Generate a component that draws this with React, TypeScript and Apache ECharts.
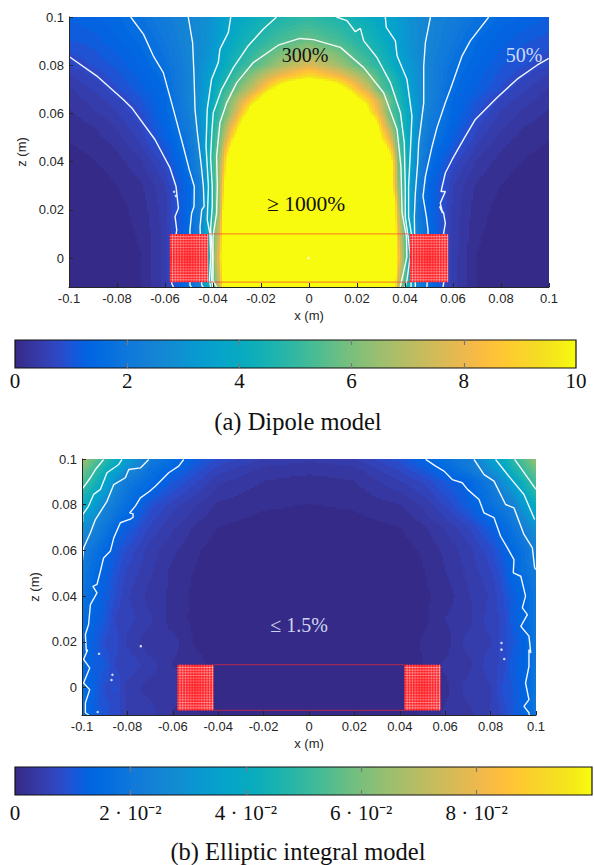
import React, { useEffect, useRef } from "react";
import * as echarts from "echarts";

// ---------- colour scale (parula, 64 steps) ----------
const parula: number[][] = [
  [.2081,.1663,.5292],[.2116,.1898,.5777],[.2123,.2138,.627],[.2081,.2386,.6771],[.1959,.2645,.7279],[.1707,.2919,.7792],[.1253,.3242,.8303],[.0591,.3598,.8683],
  [.0117,.3875,.882],[.006,.4086,.8828],[.0165,.4266,.8786],[.0329,.443,.872],[.0498,.4586,.8641],[.0629,.4737,.8554],[.0723,.4887,.8467],[.0779,.504,.8384],
  [.0793,.52,.8312],[.0749,.5375,.8263],[.0641,.557,.824],[.0488,.5772,.8228],[.0343,.5966,.8199],[.0265,.6137,.8135],[.0239,.6287,.8038],[.0231,.6418,.7913],
  [.0228,.6535,.7768],[.0267,.6642,.7607],[.0384,.6743,.7436],[.059,.6838,.7254],[.0843,.6928,.7062],[.1133,.7015,.6859],[.1453,.7098,.6646],[.1801,.7177,.6424],
  [.2178,.725,.6193],[.2586,.7317,.5954],[.3022,.7376,.5712],[.3482,.7424,.5473],[.3953,.7459,.5244],[.442,.7481,.5033],[.4871,.7491,.484],[.53,.7491,.4661],
  [.5709,.7485,.4494],[.6099,.7473,.4337],[.6473,.7456,.4188],[.6834,.7435,.4044],[.7184,.7411,.3905],[.7525,.7384,.3768],[.7858,.7356,.3633],[.8185,.7327,.3498],
  [.8507,.7299,.336],[.8824,.7274,.3217],[.9139,.7258,.3063],[.945,.7261,.2886],[.9739,.7314,.2666],[.9938,.7455,.2403],[.999,.7653,.2164],[.9955,.7861,.1967],
  [.988,.8066,.1794],[.9789,.8271,.1633],[.9697,.8481,.1475],[.9626,.8705,.1309],[.9589,.8949,.1132],[.9598,.9218,.0948],[.9661,.9514,.0755],[.9763,.9831,.0538],
];
const parulaCss = parula.map((c) => `rgb(${Math.round(c[0] * 255)},${Math.round(c[1] * 255)},${Math.round(c[2] * 255)})`);

// ---------- axes ----------
const xTicks = [-0.1, -0.08, -0.06, -0.04, -0.02, 0, 0.02, 0.04, 0.06, 0.08, 0.1];
const zTicks = [0, 0.02, 0.04, 0.06, 0.08, 0.1];
const zMin = -0.012;
const dipoleBarTicks = [0, 2, 4, 6, 8, 10];
const dipoleBarInner = [2, 4, 6, 8];
const ellipticBarTicks = [0, 0.02, 0.04, 0.06, 0.08];
const ellipticBarInner = [0.02, 0.04, 0.06, 0.08];
const ellipticBarLabels: Record<string, string> = { "0": "0", "0.02": "2 · 10⁻²", "0.04": "4 · 10⁻²", "0.06": "6 · 10⁻²", "0.08": "8 · 10⁻²" };

// ---------- dipole model: error (colour-bar units) ----------
const dipoleX = [-0.1,-0.09,-0.08,-0.07,-0.06,-0.05,-0.045,-0.041,-0.037,-0.034,-0.03,-0.025,-0.02,-0.012,0,0.012,0.02,0.025,0.03,0.034,0.037,0.041,0.045,0.05,0.06,0.07,0.08,0.09,0.1];
const dipoleZ = [-0.012,0,0.01,0.02,0.03,0.04,0.05,0.055,0.06,0.065,0.07,0.075,0.08,0.09,0.1];
const dipoleRows = [
  [.04,.05,.06,.15,.52,1.65,2.5,4.7,7.4,14,25,30,30,30,30,30,30,30,25,14,7.2,4.7,2.5,1.65,.52,.15,.06,.05,.04],
  [.04,.05,.07,.15,.55,1.65,2.45,5,8.6,16,28,30,30,30,30,30,30,30,28,16,8.8,5,2.45,1.65,.55,.15,.07,.05,.04],
  [.04,.05,.08,.18,.52,1.55,2.5,4.9,7.8,14,25,30,30,30,30,30,30,30,25,14,8.2,5,2.5,1.55,.55,.18,.08,.05,.04],
  [.04,.05,.1,.22,.55,1.47,2.55,4.2,6.8,14,24,30,30,30,30,30,30,30,25,14,7.4,4,2.35,1.47,.58,.22,.1,.05,.04],
  [.05,.06,.15,.28,.6,1.45,2.45,4.2,6.8,11.5,20,28,30,30,30,30,30,28,18,10.5,6.4,4.1,2.6,1.42,.62,.28,.15,.06,.05],
  [.08,.14,.24,.44,.85,1.82,2.7,4.7,6.5,10,16,25,30,30,30,30,30,25,14,10.5,6,4.3,2.7,1.7,.85,.44,.24,.14,.08],
  [.17,.24,.4,.68,1.24,2.02,2.95,4.5,5.9,7.6,10.6,18,25,30,30,30,25,18,9.8,7.5,5.3,4.2,2.95,2,1.24,.68,.4,.24,.17],
  [.22,.32,.5,.8,1.36,2.2,3,4.3,5.5,6.8,8.9,13,20,28,30,28,20,13,8.7,6.4,5.1,4.1,3,2.2,1.36,.82,.5,.32,.22],
  [.28,.42,.62,.92,1.45,2.35,3.1,4.1,5.2,6,7.6,10.3,16,25,30,25,16,10,7.6,5.5,5,4.05,3.05,2.35,1.47,.96,.6,.42,.28],
  [.36,.52,.72,1.05,1.5,2.45,3.1,3.9,4.9,5.7,6.9,8.5,10.5,16,25,16,10.5,8.9,7,5.6,4.75,3.95,3.1,2.45,1.52,1.08,.72,.52,.36],
  [.44,.64,.92,1.2,1.55,2.5,3,3.75,4.55,5.1,5.9,6.9,8.1,10.8,14,11,8.4,7.3,5.5,4.9,4.5,3.75,3,2.5,1.6,1.24,.92,.64,.44],
  [.58,.78,1.02,1.32,1.65,2.5,3,3.6,4.15,4.6,5.25,6.1,7,8.2,9.5,8.3,7.1,6.2,5.2,4.75,4.2,3.5,2.95,2.5,1.66,1.32,1.02,.78,.58],
  [.78,.95,1.14,1.42,1.78,2.5,2.85,3.3,3.85,4.15,4.7,5.2,5.7,6.6,7.6,6.6,5.7,5.2,4.7,4.2,3.75,3.3,2.85,2.5,1.78,1.42,1.12,.95,.78],
  [1.08,1.16,1.38,1.6,2.05,2.6,2.8,3.1,3.5,3.8,4.15,4.5,4.8,5.3,5.8,5.3,4.8,4.55,4.15,3.8,3.5,3.1,2.8,2.6,2.05,1.55,1.32,1.12,1.02],
  [1.28,1.38,1.5,1.85,2.25,2.6,2.8,3,3.4,3.6,3.8,4.05,4.3,4.6,4.9,4.6,4.3,4.05,3.8,3.6,3.4,3,2.8,2.6,2.25,1.85,1.5,1.38,1.2],
];

// ---------- elliptic integral model: error ----------
const ellipticX = [-0.1,-0.095,-0.09,-0.085,-0.08,-0.07,-0.06,-0.05,-0.04,-0.02,0,0.02,0.04,0.05,0.06,0.07,0.08,0.085,0.09,0.095,0.1];
const ellipticZ = [-0.012,0,0.01,0.02,0.03,0.04,0.05,0.06,0.07,0.08,0.09,0.095,0.1];
const ellipticRows = [
  [.017,.0125,.01,.0085,.006,.0055,.0028,.0018,.0003,.0002,.0002,.0002,.0003,.0018,.0035,.004,.0065,.008,.011,.014,.02],
  [.017,.013,.009,.0095,.0055,.004,.0045,.0015,.0004,.0002,.0002,.0002,.0004,.0025,.0025,.0055,.006,.0095,.011,.014,.02],
  [.016,.0125,.011,.0075,.0075,.0055,.003,.0025,.0004,.0002,.0002,.0002,.0004,.0015,.0035,.004,.0075,.008,.012,.014,.02],
  [.016,.0125,.009,.0085,.006,.0035,.0038,.0012,.0005,.0002,.0002,.0002,.0005,.0018,.0022,.0055,.006,.0085,.0105,.014,.02],
  [.017,.0135,.011,.0075,.007,.005,.0022,.0012,.0005,.0003,.0003,.0003,.0005,.001,.0032,.004,.0072,.008,.012,.015,.02],
  [.019,.0155,.012,.009,.0065,.004,.0028,.001,.0005,.0003,.0003,.0003,.0005,.0012,.0022,.0045,.0065,.009,.012,.015,.02],
  [.021,.016,.013,.01,.0075,.005,.0025,.0014,.0006,.0004,.0004,.0004,.0006,.0014,.003,.005,.0075,.01,.0147,.018,.022],
  [.024,.019,.015,.0115,.009,.0055,.0035,.0018,.0008,.0005,.0005,.0005,.0008,.0018,.0035,.0055,.009,.012,.015,.019,.024],
  [.03,.025,.02,.015,.012,.0075,.0048,.0028,.0015,.0008,.0007,.0008,.0015,.0028,.0048,.0075,.012,.015,.019,.024,.03],
  [.041,.035,.026,.021,.017,.01,.007,.0048,.0028,.0018,.0015,.0018,.003,.005,.008,.012,.018,.021,.024,.034,.042],
  [.054,.047,.037,.028,.021,.016,.011,.008,.005,.003,.0025,.003,.006,.008,.011,.014,.021,.028,.035,.045,.053],
  [.059,.052,.043,.036,.028,.018,.014,.01,.007,.004,.0035,.004,.008,.011,.015,.02,.029,.035,.044,.052,.058],
  [.066,.058,.049,.042,.034,.022,.017,.012,.009,.006,.005,.006,.01,.014,.018,.022,.034,.04,.049,.056,.064],
];

// ---------- white contours of (a): [x, z] ----------
const dipoleContour1L = [[-0.1,.0836],[-.0885,.0756],[-.0774,.0658],[-.0739,.0624],[-.0642,.0492],[-.0579,.0374],[-.0554,.0297],[-.0544,.0207],[-.0558,.0172],[-.0551,.0117],[-.0565,.002],[-.0572,-.0105],[-.0565,-.012]];
const dipoleContour2L = [[-.0743,.1],[-.069,.0929],[-.0649,.0839],[-.0607,.0769],[-.0565,.0617],[-.0524,.0464],[-.0499,.0367],[-.0478,.0297],[-.0479,.0214],[-.0489,.0186],[-.0496,.0117],[-.0496,-.0113],[-.049,-.012]];
const dipoleContour3L = [[-.0503,.1],[-.0485,.0894],[-.0479,.0756],[-.0475,.0617],[-.0465,.0519],[-.045,.0394],[-.044,.0297],[-.0437,.0214],[-.0447,.02],[-.0454,.013],[-.0447,-.0113],[-.044,-.012]];
const dipoleContour4L = [[-.0326,.1],[-.0336,.0936],[-.0371,.0867],[-.0378,.0811],[-.0406,.0742],[-.0424,.0617],[-.0429,.0464],[-.0419,.0297],[-.0424,.0158],[-.0413,.0103],[-.0409,.0006],[-.0415,-.0092],[-.041,-.012]];
const dipoleContour5L = [[-.0135,.1],[-.019,.095],[-.0253,.0881],[-.0315,.079],[-.0364,.07],[-.0399,.0603],[-.0405,.0519],[-.041,.0417],[-.0403,.0297],[-.0403,.0214],[-.041,.012],[-.0402,.0006],[-.0406,-.009],[-.04,-.012]];
const dipoleContour6 = [[-.0385,-.012],[-.04,-.0092],[-.04,.0006],[-.04,.0089],[-.0385,.0186],[-.0382,.0297],[-.0385,.0422],[-.0371,.0561],[-.0343,.0644],[-.0301,.0728],[-.0232,.0811],[-.0128,.0883],[-.0038,.0911],[.0019,.0906],[.0131,.0874],[.0228,.079],[.0311,.0686],[.0367,.0533],[.0383,.0381],[.0388,.0186],[.0406,.0089],[.0408,.0006],[.0388,-.0085],[.038,-.012]];
const dipoleContour5R = [[.0114,.1],[.0158,.0985],[.0193,.0939],[.0214,.0953],[.0228,.0901],[.0283,.0832],[.0339,.0728],[.0381,.0603],[.0397,.0478],[.0401,.0297],[.0401,.0172],[.0415,.0075],[.0422,.0006],[.0408,-.0092],[.04,-.012]];
const dipoleContour4R = [[.0318,.1],[.0322,.0957],[.036,.0901],[.0367,.0839],[.0408,.0742],[.0429,.0589],[.0422,.0436],[.0415,.0297],[.0415,.0172],[.043,.008],[.0425,-.012]];
const dipoleContour3R = [[.0506,.1],[.0485,.0894],[.0478,.0797],[.0478,.0644],[.0457,.0478],[.0453,.0394],[.0443,.0269],[.0439,.0172],[.0443,-.0113],[.0443,-.012]];
const dipoleContour2R = [[.0749,.1],[.0672,.0901],[.0638,.0839],[.0589,.07],[.0568,.0644],[.0533,.054],[.0513,.0464],[.0485,.0339],[.0475,.0256],[.0489,.0172],[.0496,.0117],[.0492,-.0113],[.049,-.012]];
const dipoleContour1R = [[.0999,.0828],[.095,.08],[.0867,.0742],[.0783,.0665],[.0693,.0575],[.0644,.0492],[.0596,.0408],[.0568,.0353],[.055,.0276],[.0568,.0276],[.0547,.0228],[.0557,.0186],[.0544,.0214],[.0561,.0186],[.0568,.0144],[.0561,.0103],[.0561,-.0106],[.0558,-.012]];
const dipoleContours = [dipoleContour1L, dipoleContour2L, dipoleContour3L, dipoleContour4L, dipoleContour5L, dipoleContour6, dipoleContour5R, dipoleContour4R, dipoleContour3R, dipoleContour2R, dipoleContour1R];
const dipoleSpecks = [[-.0562,.0275],[-.0555,.0258],[-.0002,0]];

// ---------- white contours of (b) ----------
const ellipticContour1L = [[-.0552,.0998],[-.0574,.0969],[-.0618,.094],[-.0655,.0903],[-.0677,.0881],[-.0702,.0859],[-.0743,.083],[-.0765,.0794],[-.079,.0764],[-.0775,.076],[-.0775,.0745],[-.079,.0735],[-.0794,.0735],[-.0831,.0721],[-.086,.0655],[-.0875,.0597],[-.0905,.0567],[-.0919,.0509],[-.0934,.0451],[-.0952,.0443],[-.0934,.0414],[-.0963,.0363],[-.0971,.0276],[-.0985,.0232],[-.0981,.0159],[-.0975,.0166],[-.0993,.0123],[-.0966,.0086],[-.0993,.002],[-.0966,-.0009],[-.0985,-.0067],[-.0985,-.011],[-.097,-.012]];
const ellipticContour2L = [[-.0706,.0998],[-.0743,.0961],[-.0794,.0954],[-.0809,.0918],[-.086,.0888],[-.089,.0815],[-.0941,.0735],[-.0963,.0677],[-.0993,.0611],[-.1,.0538]];
const ellipticContour3L = [[-.0824,.0998],[-.0838,.0976],[-.089,.094],[-.0919,.0867],[-.0949,.0845],[-.0971,.0794],[-.0997,.0757],[-.0997,.0725]];
const ellipticContour4L = [[-.0905,.0998],[-.0941,.0954],[-.0963,.0918],[-.1,.0867]];
const ellipticContour1R = [[.0514,.0998],[.0558,.0969],[.0595,.0947],[.0631,.091],[.0675,.0896],[.0698,.0867],[.0749,.0823],[.0771,.0764],[.0815,.0743],[.0844,.0662],[.0874,.0611],[.0903,.056],[.09,.0502],[.0933,.0487],[.0954,.04],[.094,.0349],[.0962,.0319],[.0933,.0268],[.0969,.0225],[.0977,.0152],[.0969,.0166],[.0969,.0093],[.0954,.002],[.0969,-.0053],[.0947,-.0082],[.0969,-.011],[.097,-.012]];
const ellipticContour2R = [[.0727,.0998],[.0771,.0932],[.0815,.0903],[.0866,.0801],[.0903,.0786],[.0947,.067],[.0984,.0611],[.0994,.0524],[.1,.0516]];
const ellipticContour3R = [[.0822,.0998],[.0874,.0932],[.0947,.0845],[.0994,.0735]];
const ellipticContour4R = [[.0906,.0998],[.1,.0867]];
const ellipticContours = [ellipticContour1L, ellipticContour2L, ellipticContour3L, ellipticContour4L, ellipticContour1R, ellipticContour2R, ellipticContour3R, ellipticContour4R];
const ellipticSpecks = [[-.0925,.0148],[-.0866,.0056],[-.087,.0033],[-.0931,-.0107],[-.0741,.0181],[.0848,.0166],[.086,.0125],[.0848,.0195]];

// ---------- coil cross-sections and the lines joining them: [x0, x1, z0, z1] ----------
const coils = [[-0.058, -0.042, -0.01, 0.01], [0.042, 0.058, -0.01, 0.01]];
const railTop = [[-0.042, 0.01], [0.042, 0.01]];
const railBottom = [[-0.042, -0.01], [0.042, -0.01]];

const INK = "#262626";
const SANS = '"Liberation Sans", Arial, sans-serif';
const SERIF = '"Liberation Serif", "Times New Roman", serif';

function fieldCells(xs: number[], zs: number[], rows: number[][]) {
  const out: number[][] = [];
  for (let j = 0; j < zs.length - 1; j++) {
    for (let i = 0; i < xs.length - 1; i++) {
      out.push([xs[i], zs[j], xs[i + 1], zs[j + 1], rows[j][i], rows[j][i + 1], rows[j + 1][i], rows[j + 1][i + 1]]);
    }
  }
  return out;
}

function fieldSeries(name: string, axis: [number, number], xs: number[], zs: number[], rows: number[][], vmax: number) {
  return {
    type: "custom", name, silent: true, xAxisIndex: axis[0], yAxisIndex: axis[1], z: 1,
    encode: { x: [0, 2], y: [1, 3] },
    data: fieldCells(xs, zs, rows),
    renderItem: (_: any, api: any) => {
      const a = api.coord([api.value(0), api.value(1)]);
      const b = api.coord([api.value(2), api.value(3)]);
      const L = Math.round(a[0]), R = Math.round(b[0]), T = Math.round(b[1]), B = Math.round(a[1]);
      const v00 = api.value(4), v10 = api.value(5), v01 = api.value(6), v11 = api.value(7);
      const children: any[] = [];
      const idx = (fx: number, fy: number) => {
        const v = (v00 * (1 - fx) + v10 * fx) * (1 - fy) + (v01 * (1 - fx) + v11 * fx) * fy;
        return Math.max(0, Math.min(63, Math.floor((v / vmax) * 64)));
      };
      for (let y = T; y < B; y += 2) {
        const y2 = Math.min(y + 2, B);
        const fy = (B - (y + y2) / 2) / Math.max(1, B - T);
        let start = L;
        let cur = idx(0, fy);
        for (let x = L; x < R; x += 2) {
          const x2 = Math.min(x + 2, R);
          const k = idx(((x + x2) / 2 - L) / Math.max(1, R - L), fy);
          if (k !== cur) {
            children.push({ type: "rect", shape: { x: start, y, width: x - start, height: y2 - y }, style: { fill: parulaCss[cur] } });
            start = x;
            cur = k;
          }
        }
        children.push({ type: "rect", shape: { x: start, y, width: R - start, height: y2 - y }, style: { fill: parulaCss[cur] } });
      }
      return { type: "group", children };
    },
  };
}

function contourSeries(list: number[][][], axis: [number, number]) {
  return list.map((data) => ({
    type: "line", silent: true, xAxisIndex: axis[0], yAxisIndex: axis[1], z: 3, data,
    showSymbol: false, symbol: "none", lineStyle: { color: "#fff", width: 1.4, opacity: 0.95 },
  }));
}

function speckSeries(data: number[][], axis: [number, number]) {
  return { type: "scatter", silent: true, xAxisIndex: axis[0], yAxisIndex: axis[1], z: 3, data, symbolSize: 2.5, itemStyle: { color: "#fff" } };
}

function railSeries(axis: [number, number]) {
  return [railTop, railBottom].map((data) => ({
    type: "line", silent: true, xAxisIndex: axis[0], yAxisIndex: axis[1], z: 4, data,
    showSymbol: false, symbol: "none", lineStyle: { color: "rgba(255,40,40,0.5)", width: 1.2 },
  }));
}

function coilSeries(axis: [number, number]) {
  return {
    type: "custom", silent: true, xAxisIndex: axis[0], yAxisIndex: axis[1], z: 5,
    encode: { x: [0, 1], y: [2, 3] },
    data: coils,
    renderItem: (_: any, api: any) => {
      const a = api.coord([api.value(0), api.value(2)]);
      const b = api.coord([api.value(1), api.value(3)]);
      const children: any[] = [{ type: "rect", shape: { x: a[0], y: b[1], width: b[0] - a[0], height: a[1] - b[1] }, style: { fill: "#ff1f24" } }];
      const w = b[0] - a[0];
      const h = a[1] - b[1];
      for (let i = 1; i * 2.7 < w; i++) {
        const c = Math.abs(i * 2.7 / w - 0.5);
        children.push({ type: "line", shape: { x1: a[0] + i * 2.7, y1: b[1], x2: a[0] + i * 2.7, y2: a[1] }, style: { stroke: `rgba(255,235,235,${0.18 + c})`, lineWidth: 0.8 } });
      }
      for (let j = 1; j * 2.7 < h; j++) {
        const c = Math.abs(j * 2.7 / h - 0.5);
        children.push({ type: "line", shape: { x1: a[0], y1: b[1] + j * 2.7, x2: b[0], y2: b[1] + j * 2.7 }, style: { stroke: `rgba(255,235,235,${0.18 + c})`, lineWidth: 0.8 } });
      }
      return { type: "group", children };
    },
  };
}

function barSeries(axis: [number, number], vmax: number) {
  return {
    type: "custom", silent: true, xAxisIndex: axis[0], yAxisIndex: axis[1], z: 1,
    encode: { x: [0, 1] },
    data: [[0, vmax]],
    renderItem: (p: any, api: any) => {
      const a = api.coord([api.value(0), 0]);
      const b = api.coord([api.value(1), 1]);
      return {
        type: "rect",
        shape: { x: a[0], y: b[1], width: b[0] - a[0], height: a[1] - b[1] },
        style: {
          fill: new echarts.graphic.LinearGradient(0, 0, 1, 0, parulaCss.map((color, i) => ({ offset: i / 63, color }))),
          stroke: "#111", lineWidth: 1.2,
        },
      };
    },
  };
}

function plotX(gridIndex: number) {
  return {
    gridIndex, type: "value", min: -0.1, max: 0.1, z: 6,
    name: "x (m)", nameLocation: "middle", nameGap: 22, nameTextStyle: { color: INK, fontFamily: SANS, fontSize: 13 },
    axisLine: { show: true, onZero: false, lineStyle: { color: INK, width: 1 } },
    axisTick: { show: true, inside: true, length: 4, customValues: xTicks, lineStyle: { color: INK } },
    axisLabel: { color: INK, fontFamily: SANS, fontSize: 13, margin: 5, customValues: xTicks, formatter: (v: number) => String(v) },
    splitLine: { show: false },
  };
}
function plotZ(gridIndex: number, nameGap: number) {
  return {
    gridIndex, type: "value", min: zMin, max: 0.1, z: 6,
    name: "z (m)", nameLocation: "middle", nameGap, nameRotate: 90, nameTextStyle: { color: INK, fontFamily: SANS, fontSize: 13 },
    axisLine: { show: true, onZero: false, lineStyle: { color: INK, width: 1 } },
    axisTick: { show: true, inside: true, length: 4, customValues: zTicks, lineStyle: { color: INK } },
    axisLabel: { color: INK, fontFamily: SANS, fontSize: 13, margin: 5, customValues: zTicks, formatter: (v: number) => String(v) },
    splitLine: { show: false },
  };
}
function barX(gridIndex: number, vmax: number, ticks: number[], inner: number[], position: string, fmt: (v: number) => string, margin: number) {
  const bottom = position === "bottom";
  return {
    gridIndex, type: "value", min: 0, max: vmax, position, z: 6,
    axisLine: { show: false, onZero: false },
    axisTick: { show: true, inside: true, length: 5, customValues: inner, lineStyle: { color: "#777", width: 1.2 } },
    axisLabel: { show: bottom, color: "#111", fontFamily: SERIF, fontSize: 21, margin, customValues: ticks, formatter: fmt, hideOverlap: false },
    splitLine: { show: false },
  };
}
function barY(gridIndex: number) {
  return { gridIndex, type: "value", min: 0, max: 1, show: false };
}

function txt(text: string, x: number, y: number, size: number, fill: string) {
  return { type: "text", silent: true, z: 20, style: { text, x, y, align: "center", verticalAlign: "middle", font: `${size}px ${SERIF}`, fill } };
}

export default function App() {
  const ref = useRef<HTMLDivElement>(null);
  useEffect(() => {
    const chart = echarts.init(ref.current!, undefined, { renderer: "svg" });
    chart.setOption({
      animation: false,
      backgroundColor: "#fff",
      grid: [
        { left: 69, top: 17, width: 480, height: 270 },
        { left: 15, top: 340, width: 561, height: 28 },
        { left: 82, top: 459, width: 454, height: 256 },
        { left: 15, top: 767, width: 577, height: 28 },
      ],
      xAxis: [
        plotX(0),
        barX(1, 10, dipoleBarTicks, dipoleBarInner, "bottom", (v) => String(v), 2),
        barX(1, 10, dipoleBarTicks, dipoleBarInner, "top", (v) => String(v), 2),
        plotX(2),
        barX(3, 0.1, ellipticBarTicks, ellipticBarInner, "bottom", (v) => ellipticBarLabels[String(v)] ?? "", 7),
        barX(3, 0.1, ellipticBarTicks, ellipticBarInner, "top", (v) => ellipticBarLabels[String(v)] ?? "", 7),
      ],
      yAxis: [plotZ(0, 30), barY(1), plotZ(2, 25), barY(3)],
      series: [
        fieldSeries("Dipole model", [0, 0], dipoleX, dipoleZ, dipoleRows, 10),
        ...contourSeries(dipoleContours, [0, 0]),
        speckSeries(dipoleSpecks, [0, 0]),
        ...railSeries([0, 0]),
        coilSeries([0, 0]),
        barSeries([1, 1], 10),
        fieldSeries("Elliptic integral model", [3, 2], ellipticX, ellipticZ, ellipticRows, 0.1),
        ...contourSeries(ellipticContours, [3, 2]),
        speckSeries(ellipticSpecks, [3, 2]),
        ...railSeries([3, 2]),
        coilSeries([3, 2]),
        barSeries([4, 3], 0.1),
      ],
      graphic: [
        txt("300%", 305, 55, 20, "#111"),
        txt("50%", 524, 55, 20, "rgba(225,235,255,0.9)"),
        txt("≥ 1000%", 306, 204, 21.5, "#111"),
        txt("≤ 1.5%", 299, 625, 20, "rgba(225,235,255,0.9)"),
        txt("(a) Dipole model", 298, 421, 24.5, "#111"),
        txt("(b) Elliptic integral model", 298, 851, 24.5, "#111"),
      ],
    });
    return () => chart.dispose();
  }, []);
  return <div ref={ref} style={{ position: "absolute", left: 0, top: 0, width: 594, height: 865 }} />;
}
